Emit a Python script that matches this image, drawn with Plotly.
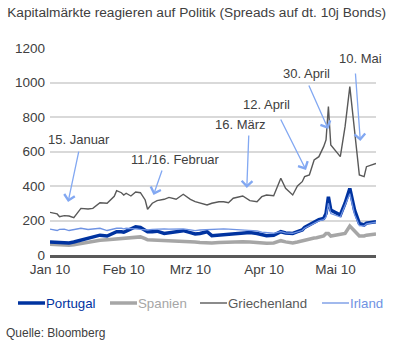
import plotly.graph_objects as go

dates = ["2010-01-01","2010-01-04","2010-01-05","2010-01-07","2010-01-09","2010-01-11",
         "2010-01-14","2010-01-17","2010-01-19","2010-01-22","2010-01-25","2010-01-28",
         "2010-01-29","2010-01-31","2010-02-01","2010-02-02","2010-02-04","2010-02-06",
         "2010-02-08","2010-02-10","2010-02-11","2010-02-13","2010-02-15","2010-02-18",
         "2010-02-20","2010-02-23","2010-02-26","2010-03-01","2010-03-03","2010-03-05",
         "2010-03-08","2010-03-10","2010-03-13","2010-03-15","2010-03-17","2010-03-19",
         "2010-03-23","2010-03-26","2010-03-29","2010-03-31","2010-04-02","2010-04-05",
         "2010-04-08","2010-04-10","2010-04-13","2010-04-15","2010-04-17","2010-04-18",
         "2010-04-20","2010-04-22","2010-04-23","2010-04-24","2010-04-26","2010-04-27",
         "2010-04-28","2010-04-29","2010-05-03","2010-05-05","2010-05-07","2010-05-09",
         "2010-05-11","2010-05-13","2010-05-14","2010-05-18"]

griechenland = [247,238,222,228,226,216,270,267,270,303,300,340,373,361,348,358,342,365,
                361,319,265,300,315,323,334,323,352,323,309,300,290,300,309,309,303,329,
                342,315,309,338,348,344,445,387,348,400,425,454,464,551,561,570,628,667,
                860,638,570,744,976,705,464,454,512,531]
portugal = [75,74,72,70,70,75,85,95,100,115,110,125,135,135,132,138,150,164,
            160,145,135,135,138,125,130,138,141,130,122,125,135,112,115,118,120,122,
            128,130,125,118,112,115,135,128,125,135,145,160,175,190,198,205,212,240,
            338,260,232,300,386,260,183,174,185,193]
spanien = [62,60,58,58,57,60,68,75,78,85,88,92,95,96,98,100,104,106,
           105,95,88,87,86,84,82,80,77,76,75,72,70,70,72,74,76,77,
           77,76,72,70,68,70,83,76,70,75,82,88,94,98,100,103,110,125,
           125,110,118,125,168,140,110,110,115,122]
irland = [150,142,148,150,142,148,155,148,150,155,142,150,155,155,152,155,155,152,
          148,145,145,148,150,151,150,151,151,146,141,145,148,148,150,151,150,149,
          147,145,140,132,128,126,135,128,126,132,142,155,168,182,190,198,205,220,
          300,240,220,285,355,235,170,168,180,190]

tick_vals = ["2010-01-01","2010-02-01","2010-03-01","2010-04-01","2010-05-01"]
tick_text = ["Jan 10","Feb 10","Mrz 10","Apr 10","Mai 10"]

c_pt, c_es, c_gr, c_ie = "#0033a0", "#a6a6a6", "#595959", "#6f93e3"

# layout geometry (pixels in the 400x345 page)
L, R, T, B = 50, 24, 48, 90
PW, PH = 400 - L - R, 345 - T - B
def px_x(px): return (px - L) / PW
def px_y(py): return (345 - B - py) / PH

fig = go.Figure()
fig.add_trace(go.Scatter(x=dates, y=spanien, mode="lines", line=dict(color=c_es, width=3.5), name="Spanien"))
fig.add_trace(go.Scatter(x=dates, y=griechenland, mode="lines", line=dict(color=c_gr, width=1.4), name="Griechenland"))
fig.add_trace(go.Scatter(x=dates, y=portugal, mode="lines", line=dict(color=c_pt, width=3.5), name="Portugal"))
fig.add_trace(go.Scatter(x=dates, y=irland, mode="lines", line=dict(color=c_ie, width=1.3), name="Irland"))

arrow_col = "#82a8f2"
txt_col = "#404040"
labels = [
    ("15. Januar", "2010-01-13 05:00", 667, "2010-01-08 14:00", 307, 11, -52),
    ("11./16. Februar", "2010-02-22 17:00", 551, "2010-02-13 12:00", 348, 9, -26),
    ("16. März", "2010-03-22 05:00", 754, "2010-03-24 17:00", 388, 2, -54),
    ("12. April", "2010-04-02 03:00", 870, "2010-04-18 14:00", 493, -26, -52),
    ("30. April", "2010-04-19 00:00", 1055, "2010-04-27 22:00", 730, -20, -45),
    ("10. Mai", "2010-05-11 10:00", 1142, "2010-05-11 10:00", 661, -5, -69),
]
for text, tx, ty, ax_, ay_, dx, dy in labels:
    fig.add_annotation(x=tx, y=ty, xref="x", yref="y", text=text, showarrow=False,
                       font=dict(size=13, color=txt_col))
    fig.add_annotation(x=ax_, y=ay_, xref="x", yref="y", text="", showarrow=True,
                       ax=dx, ay=dy, axref="pixel", ayref="pixel",
                       arrowhead=4, arrowsize=1.6, arrowwidth=1.3, arrowcolor=arrow_col)

# custom legend row (series colours for both key and text)
legend_items = [("Portugal", c_pt, 3.5, 18), ("Spanien", c_es, 3.5, 110),
                ("Griechenland", c_gr, 1.4, 200), ("Irland", c_ie, 1.3, 322)]
leg_y = 303
for name, col, w, x0 in legend_items:
    fig.add_shape(type="line", xref="paper", yref="paper",
                  x0=px_x(x0), x1=px_x(x0 + 27), y0=px_y(leg_y), y1=px_y(leg_y),
                  line=dict(color=col, width=w))
    fig.add_annotation(x=px_x(x0 + 28), y=px_y(leg_y), xref="paper", yref="paper",
                       text=name, showarrow=False, xanchor="left", yanchor="middle",
                       xshift=-2, font=dict(size=13.3, color=col))

fig.add_annotation(x=px_x(6), y=px_y(333), xref="paper", yref="paper", text="Quelle: Bloomberg",
                   showarrow=False, xanchor="left", yanchor="middle", xshift=-2,
                   font=dict(size=12, color="#404040"))

fig.update_layout(
    width=400, height=345,
    margin=dict(l=L, r=R, t=T, b=B),
    paper_bgcolor="white", plot_bgcolor="white",
    font=dict(family="Liberation Sans, Arial", size=13, color="#404040"),
    title=dict(text="Kapitalmärkte reagieren auf Politik (Spreads auf dt. 10j Bonds)",
               x=0.018, xanchor="left", y=0.965, yanchor="middle",
               font=dict(size=13.7, color="#404040")),
    showlegend=False,
    xaxis=dict(type="date", range=["2010-01-01", "2010-05-18"], tickvals=tick_vals,
               ticktext=tick_text, showgrid=False, showline=True, linecolor="#595959",
               linewidth=3, ticks="", tickfont=dict(size=13.5, color="#404040"), zeroline=False),
    yaxis=dict(range=[0, 1200], tickvals=[0,200,400,600,800,1000,1200], showgrid=True,
               gridcolor="#d9d9d9", gridwidth=1.5, zeroline=False, showline=False,
               ticks="", tickfont=dict(size=13.5, color="#404040"), ticklabelstandoff=4),
)

fig.write_html("out.html")
